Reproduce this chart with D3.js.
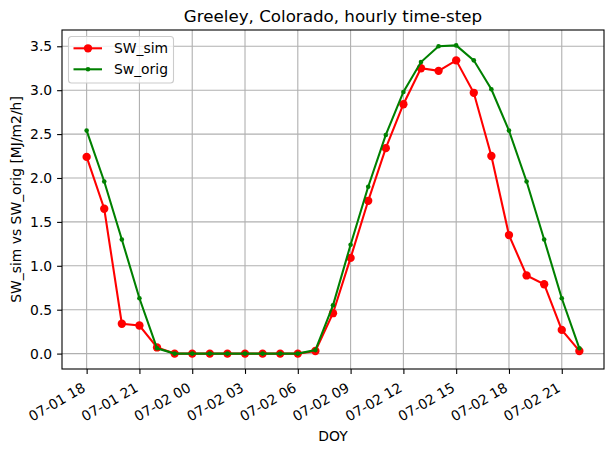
<!DOCTYPE html>
<html>
<head>
<meta charset="utf-8">
<script src="https://cdn.jsdelivr.net/npm/d3@7"></script>
<style>
  body { margin: 0; background: #fff; }
  svg { display: block; font-family: "DejaVu Sans", sans-serif; }
</style>
</head>
<body>
<div id="chart"></div>
<script>
const times = [
  "2016-07-01T18:00Z", "2016-07-01T19:00Z", "2016-07-01T20:00Z", "2016-07-01T21:00Z",
  "2016-07-01T22:00Z", "2016-07-01T23:00Z", "2016-07-02T00:00Z", "2016-07-02T01:00Z",
  "2016-07-02T02:00Z", "2016-07-02T03:00Z", "2016-07-02T04:00Z", "2016-07-02T05:00Z",
  "2016-07-02T06:00Z", "2016-07-02T07:00Z", "2016-07-02T08:00Z", "2016-07-02T09:00Z",
  "2016-07-02T10:00Z", "2016-07-02T11:00Z", "2016-07-02T12:00Z", "2016-07-02T13:00Z",
  "2016-07-02T14:00Z", "2016-07-02T15:00Z", "2016-07-02T16:00Z", "2016-07-02T17:00Z",
  "2016-07-02T18:00Z", "2016-07-02T19:00Z", "2016-07-02T20:00Z", "2016-07-02T21:00Z",
  "2016-07-02T22:00Z"
];
const swSim = [2.24, 1.65, 0.34, 0.32, 0.07, 0, 0, 0, 0, 0, 0, 0, 0, 0.03,
  0.46, 1.09, 1.74, 2.34, 2.84, 3.25, 3.22, 3.34, 2.97, 2.25, 1.35, 0.89, 0.79, 0.27, 0.03];
const swOrig = [2.54, 1.96, 1.30, 0.63, 0.06, 0, 0, 0, 0, 0, 0, 0, 0, 0.04,
  0.55, 1.24, 1.90, 2.49, 2.98, 3.32, 3.50, 3.51, 3.34, 3.01, 2.54, 1.96, 1.30, 0.63, 0.06];
const yTicks = [0, 0.5, 1.0, 1.5, 2.0, 2.5, 3.0, 3.5];

const W = 614, H = 452;
const margin = {top: 30, right: 10, bottom: 83, left: 62};
const width = W - margin.left - margin.right;
const height = H - margin.top - margin.bottom;

const parsed = times.map(t => new Date(t));
const simData = parsed.map((t, i) => ({t: t, v: swSim[i]}));
const origData = parsed.map((t, i) => ({t: t, v: swOrig[i]}));

// matplotlib style 5% margins
const tExt = d3.extent(parsed);
const tPad = (tExt[1] - tExt[0]) * 0.05;
const vMax = d3.max(swSim.concat(swOrig)), vMin = 0;
const vPad = (vMax - vMin) * 0.05;

const x = d3.scaleUtc()
  .domain([new Date(+tExt[0] - tPad), new Date(+tExt[1] + tPad)])
  .range([0, width]);
const y = d3.scaleLinear()
  .domain([vMin - vPad, vMax + vPad])
  .range([height, 0]);

const svg = d3.select("#chart").append("svg")
  .attr("width", W).attr("height", H);
const g = svg.append("g")
  .attr("transform", "translate(" + margin.left + "," + margin.top + ")");

const xTickVals = x.ticks(d3.utcHour.every(3));
const fmt = d3.utcFormat("%m-%d %H");

// grid
g.append("g").selectAll("line.gx")
  .data(xTickVals).join("line")
  .attr("x1", d => x(d)).attr("x2", d => x(d))
  .attr("y1", 0).attr("y2", height)
  .attr("stroke", "#b0b0b0").attr("stroke-width", 1.1);
g.append("g").selectAll("line.gy")
  .data(yTicks).join("line")
  .attr("y1", d => y(d)).attr("y2", d => y(d))
  .attr("x1", 0).attr("x2", width)
  .attr("stroke", "#b0b0b0").attr("stroke-width", 1.1);

// axes
const xAxis = g.append("g")
  .attr("transform", "translate(0," + height + ")")
  .call(d3.axisBottom(x).tickValues(xTickVals).tickFormat(fmt).tickSizeOuter(0).tickSize(4.9).tickPadding(3));
xAxis.select(".domain").remove();
xAxis.selectAll("line").attr("stroke-width", 1.1);
// rotated like fig.autofmt_xdate()
xAxis.selectAll("text")
  .attr("font-size", "13.9px").attr("fill", "#000")
  .attr("font-family", "DejaVu Sans")
  .attr("text-anchor", "end")
  .attr("x", 0).attr("y", 0).attr("dy", 0)
  .attr("transform", "translate(-0.8,21.5) rotate(-30)");

const yAxis = g.append("g")
  .call(d3.axisLeft(y).tickValues(yTicks).tickFormat(d3.format(".1f")).tickSizeOuter(0).tickSize(4.9).tickPadding(4.9));
yAxis.select(".domain").remove();
yAxis.selectAll("line").attr("stroke-width", 1.1);
yAxis.selectAll("text")
  .attr("font-size", "13.9px").attr("fill", "#000")
  .attr("font-family", "DejaVu Sans");

// lines
const line = d3.line().x(d => x(d.t)).y(d => y(d.v));
g.append("path").datum(simData)
  .attr("fill", "none").attr("stroke", "#ff0000").attr("stroke-width", 2.08)
  .attr("d", line);
g.append("g").selectAll("circle")
  .data(simData).join("circle")
  .attr("cx", d => x(d.t)).attr("cy", d => y(d.v))
  .attr("r", 4.17).attr("fill", "#ff0000");

g.append("path").datum(origData)
  .attr("fill", "none").attr("stroke", "#008000").attr("stroke-width", 2.08)
  .attr("d", line);
g.append("g").selectAll("circle")
  .data(origData).join("circle")
  .attr("cx", d => x(d.t)).attr("cy", d => y(d.v))
  .attr("r", 2.3).attr("fill", "#008000");

// frame
g.append("rect")
  .attr("width", width).attr("height", height)
  .attr("fill", "none").attr("stroke", "#000").attr("stroke-width", 1.1);

// legend
const leg = g.append("g").attr("transform", "translate(6.5,6.5)");
leg.append("rect")
  .attr("width", 105).attr("height", 46.5).attr("rx", 3)
  .attr("fill", "#fff").attr("fill-opacity", 0.8)
  .attr("stroke", "#cccccc").attr("stroke-width", 1.1);
const legItems = [
  {name: "SW_sim", color: "#ff0000", r: 4.17},
  {name: "Sw_orig", color: "#008000", r: 2.3}
];
legItems.forEach((it, i) => {
  const yy = 11.8 + i * 21;
  leg.append("line").attr("x1", 5).attr("x2", 33.5).attr("y1", yy).attr("y2", yy)
    .attr("stroke", it.color).attr("stroke-width", 2.08);
  leg.append("circle").attr("cx", 19.5).attr("cy", yy).attr("r", it.r).attr("fill", it.color);
  leg.append("text").attr("x", 45.5).attr("y", yy).attr("dy", "0.35em")
    .attr("font-size", "13.9px").text(it.name);
});

// titles
svg.append("text")
  .attr("x", margin.left + width / 2).attr("y", margin.top - 8.3)
  .attr("text-anchor", "middle").attr("font-size", "16.7px")
  .text("Greeley, Colorado, hourly time-step");
svg.append("text")
  .attr("x", margin.left + width / 2).attr("y", 441)
  .attr("text-anchor", "middle").attr("font-size", "13.9px")
  .text("DOY");
svg.append("text")
  .attr("transform", "translate(21," + (margin.top + height / 2) + ") rotate(-90)")
  .attr("text-anchor", "middle").attr("font-size", "13.9px")
  .text("SW_sim vs SW_orig [MJ/m2/h]");
</script>
</body>
</html>
